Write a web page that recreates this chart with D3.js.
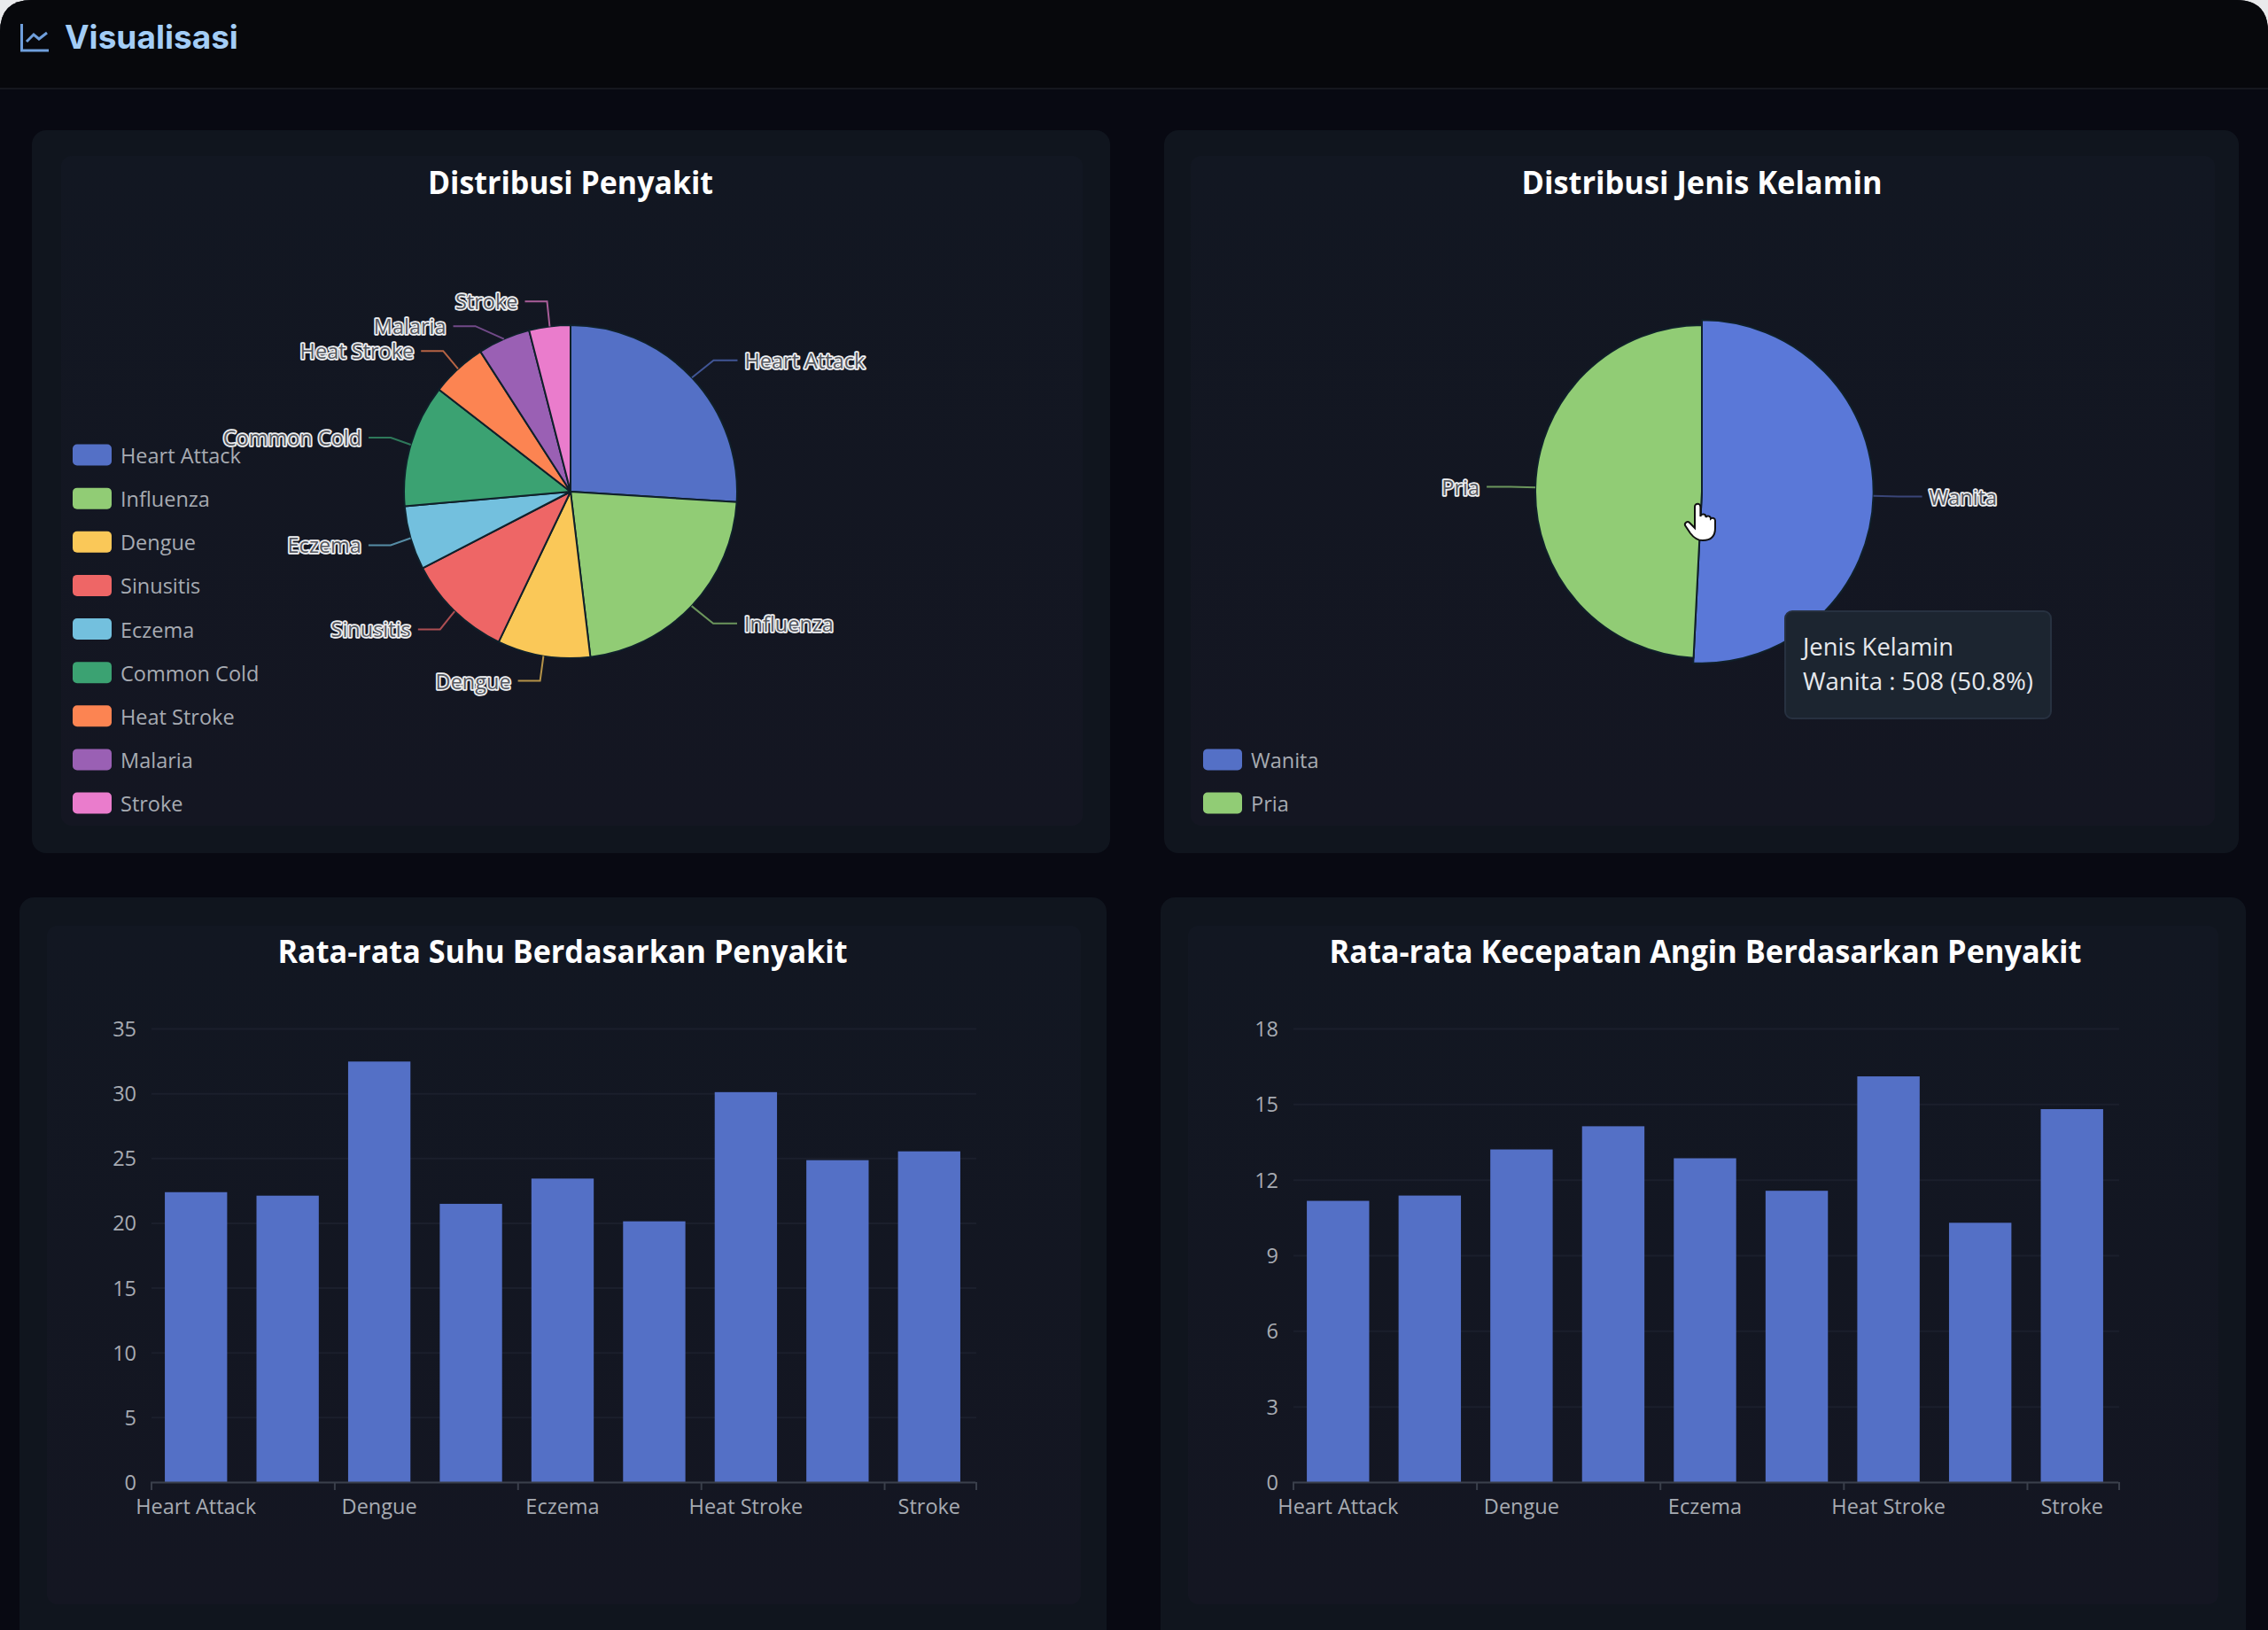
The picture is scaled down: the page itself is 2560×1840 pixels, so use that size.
<!DOCTYPE html>
<html><head><meta charset="utf-8">
<script src="https://cdn.jsdelivr.net/npm/d3@7"></script>
<style>
html,body{margin:0;padding:0;background:#e9eaec;overflow:hidden}
svg{display:block}
text{font-family:"Open Sans","Noto Sans",sans-serif}
</style></head><body>
<svg id="c" width="2560" height="1840" viewBox="0 0 2560 1840"></svg>
<script>
const categories = ["Heart Attack","Influenza","Dengue","Sinusitis","Eczema","Common Cold","Heat Stroke","Malaria","Stroke"];
const diseaseCounts = [260,221,90,103,62,119,54,51,40];
const genderLabels = ["Wanita","Pria"];
const genderCounts = [508,492];
const avgTemperature = [22.37,22.1,32.45,21.47,23.42,20.12,30.09,24.84,25.52];
const avgWindSpeed = [11.16,11.37,13.2,14.12,12.85,11.56,16.1,10.29,14.8];
const tempTicks = [0,5,10,15,20,25,30,35];
const windTicks = [0,3,6,9,12,15,18];
const xTickLabels = ["Heart Attack","Dengue","Eczema","Heat Stroke","Stroke"];
const palette = ["#5470c6","#91cc75","#fac858","#ee6666","#73c0de","#3ba272","#fc8452","#9a60b4","#ea7ccc"];

const svg = d3.select("#c");
const FS = 23.5, LABEL = "#a7abb2";

const grad = svg.append("defs").append("linearGradient").attr("id","inner").attr("x1",0).attr("x2",0).attr("y1",0).attr("y2",1);
grad.append("stop").attr("offset",0).attr("stop-color","#121722");
grad.append("stop").attr("offset",1).attr("stop-color","#141622");

// page
svg.append("path").attr("fill","#080912")
  .attr("d","M0 1840V36Q0 0 36 0H2524Q2560 0 2560 36V1840Z");
svg.append("path").attr("fill","#07080c")
  .attr("d","M0 100V36Q0 0 36 0H2524Q2560 0 2560 36V100Z");
svg.append("line").attr("x1",0).attr("x2",2560).attr("y1",100).attr("y2",100).attr("stroke","#15171e").attr("stroke-width",2);

// header
const hi = svg.append("g").attr("fill","none").attr("stroke","#6f9fdc").attr("stroke-width",3);
hi.append("path").attr("d","M24.5 27V57H55");
hi.append("path").attr("d","M30 47L38 39L44 44L53 37");
svg.append("text").attr("x",73).attr("y",55).text("Visualisasi")
  .style("font-family","Inter").attr("font-weight",700).attr("font-size",37).attr("fill","#a3cdf6");

// cards
const cards = [
  {o:[36,147,1253,963], i:[69,176,1222,932]},
  {o:[1314,147,2527,963], i:[1344,176,2500,932]},
  {o:[22,1013,1249,1860], i:[53,1045,1220,1811]},
  {o:[1310,1013,2535,1860], i:[1341,1045,2504,1811]}
];
cards.forEach(c=>{
  svg.append("rect").attr("x",c.o[0]).attr("y",c.o[1]).attr("width",c.o[2]-c.o[0]).attr("height",c.o[3]-c.o[1]).attr("rx",16).attr("fill","#10151e");
  svg.append("rect").attr("x",c.i[0]).attr("y",c.i[1]).attr("width",c.i[2]-c.i[0]).attr("height",c.i[3]-c.i[1]).attr("rx",12).attr("fill","url(#inner)");
});

function title(x,y,t,w){
  svg.append("text").attr("x",x).attr("y",y).attr("text-anchor","middle").attr("dominant-baseline","central")
    .attr("font-weight",700).attr("font-size",36).attr("fill","#fff")
    .attr("textLength",w).attr("lengthAdjust","spacingAndGlyphs").text(t);
}
title(644,205,"Distribusi Penyakit",322);
title(1921,205,"Distribusi Jenis Kelamin",407);
title(635,1073,"Rata-rata Suhu Berdasarkan Penyakit",643);
title(1925,1073,"Rata-rata Kecepatan Angin Berdasarkan Penyakit",849);

function legend(x,names,colors){
  const rowY = d3.scaleLinear().domain([0,8]).range([514,907]);
  const off = 9-names.length;
  names.forEach((n,i)=>{
    const y = rowY(i+off);
    svg.append("rect").attr("x",x).attr("y",y-12.5).attr("width",44).attr("height",24).attr("rx",5).attr("fill",colors[i]);
    svg.append("text").attr("x",x+54).attr("y",y).attr("dominant-baseline","central")
      .attr("font-size",FS).attr("fill",LABEL).text(n);
  });
}

function pie(cx,cy,r,names,values,colors,gap,emph,shift,leftRun){
  const arcs = d3.pie().sort(null)(values);
  const g = svg.append("g").attr("transform",`translate(${cx},${cy})`);
  const radius = i => i===emph ? r*1.03 : r;
  g.selectAll("path").data(arcs).join("path")
    .attr("d",(d,i)=>d3.arc().innerRadius(0).outerRadius(radius(i))(d))
    .attr("fill",(d,i)=> i===emph ? "#5a78d8" : colors[i])
    .attr("stroke","#10202a").attr("stroke-width",2).attr("stroke-linejoin","round");
  // leader lines: elbow outside the rim, then horizontal run, nudged apart vertically
  const items = arcs.map((d,i)=>{
    const a=(d.startAngle+d.endAngle)/2, R=radius(i), E=R+gap;
    return {i,a,R,E,side:Math.sin(a)>=0?1:-1,y:-Math.cos(a)*E};
  });
  [1,-1].forEach(s=>{
    const it=items.filter(d=>d.side===s).sort((p,q)=>p.y-q.y);
    it.forEach((d,k)=>{ if(k && d.y-it[k-1].y<28) d.y=it[k-1].y+28; });
  });
  items.forEach(d=>{
    const ex=d.side*Math.sqrt(Math.max(0,d.E*d.E-d.y*d.y))+shift*Math.abs(Math.sin(d.a));
    const sx=Math.sin(d.a)*d.R, sy=-Math.cos(d.a)*d.R;
    const hx=ex+(d.side>0?27:-leftRun);
    g.append("path").attr("fill","none").attr("stroke",d.i===emph?"#4a5a9c":colors[d.i]).attr("stroke-opacity",.7).attr("stroke-width",2)
      .attr("d",`M${sx} ${sy}L${ex} ${d.y}H${hx}`);
    g.append("text").attr("x",hx+d.side*8).attr("y",d.y).attr("dominant-baseline","central")
      .attr("text-anchor",d.side>0?"start":"end").attr("font-size",FS)
      .attr("fill","#55585f").attr("stroke","#f0f1f3").attr("stroke-width",3.5).attr("paint-order","stroke")
      .attr("stroke-linejoin","round").text(names[d.i]);
  });
}

legend(82,categories,palette);
legend(1358,genderLabels,palette);
pie(644,555,188,categories,diseaseCounts,palette,28.5,-1,5,25);
pie(1921,555,188,genderLabels,genderCounts,palette,28,0,0,27);

function bars(x0,x1,values,ticks){
  const yTop=1161, yBase=1673;
  const x=d3.scaleBand().domain(categories).range([x0-1.5,x1-1.5]).paddingInner(.32).paddingOuter(.16);
  const y=d3.scaleLinear().domain([0,d3.max(ticks)]).range([yBase,yTop]);
  const ga=svg.append("g").attr("transform",`translate(${x0},0)`)
    .call(d3.axisLeft(y).tickValues(ticks).tickSize(-(x1-x0)).tickPadding(17));
  ga.select(".domain").remove();
  ga.selectAll("line").attr("stroke","#1b1f2c").attr("stroke-width",2);
  ga.selectAll("text").style("font-family",'"Open Sans"').attr("font-size",FS).attr("fill",LABEL).attr("y",1);
  svg.append("g").selectAll("rect").data(values).join("rect")
    .attr("x",(d,i)=>x(categories[i])).attr("width",x.bandwidth())
    .attr("y",d=>y(d)).attr("height",d=>yBase-y(d)).attr("fill","#5470c6");
  const gx=svg.append("g").attr("transform",`translate(0,${yBase})`)
    .call(d3.axisBottom(x).tickValues(xTickLabels).tickSize(0).tickPadding(19));
  gx.select(".domain").attr("stroke","#3a3f4b").attr("stroke-width",2);
  gx.selectAll("text").style("font-family",'"Open Sans"').attr("font-size",FS).attr("fill",LABEL);
  // ticks sit on the category band edges, every second category plus the end
  const step=(x1-x0)/categories.length;
  d3.range(0,categories.length+1).filter(k=>k%2===0||k===categories.length).forEach(k=>{
    svg.append("line").attr("x1",x0+k*step).attr("x2",x0+k*step).attr("y1",yBase).attr("y2",yBase+9)
      .attr("stroke","#3a3f4b").attr("stroke-width",2);
  });
}
bars(171,1102,avgTemperature,tempTicks);
bars(1460,2392,avgWindSpeed,windTicks);

// tooltip
svg.append("rect").attr("x",2015).attr("y",690).attr("width",300).attr("height",121).attr("rx",8)
  .attr("fill","#1c2530").attr("stroke","#273140").attr("stroke-width",2);
svg.append("text").attr("x",2035).attr("y",729.5).attr("dominant-baseline","central").attr("font-size",27).attr("fill","#e6e8ec").attr("textLength",170).attr("lengthAdjust","spacingAndGlyphs").text("Jenis Kelamin");
svg.append("text").attr("x",2035).attr("y",768.5).attr("dominant-baseline","central").attr("font-size",27).attr("fill","#e6e8ec").attr("textLength",260).attr("lengthAdjust","spacingAndGlyphs").text("Wanita : 508 (50.8%)");

// hand cursor
svg.append("path").attr("transform","translate(1901,568)")
  .attr("d","M12 4a3.2 3.2 0 0 1 6.4 0V15a3 3 0 0 1 6 1a3 3 0 0 1 5.6 1.5a3 3 0 0 1 5 2V28C35 37 30 42 21 42C14 42 10 38 7 34L1 25a3 3 0 0 1 5-3L12 28Z")
  .attr("fill","#fff").attr("stroke","#111").attr("stroke-width",2);
</script></body></html>
